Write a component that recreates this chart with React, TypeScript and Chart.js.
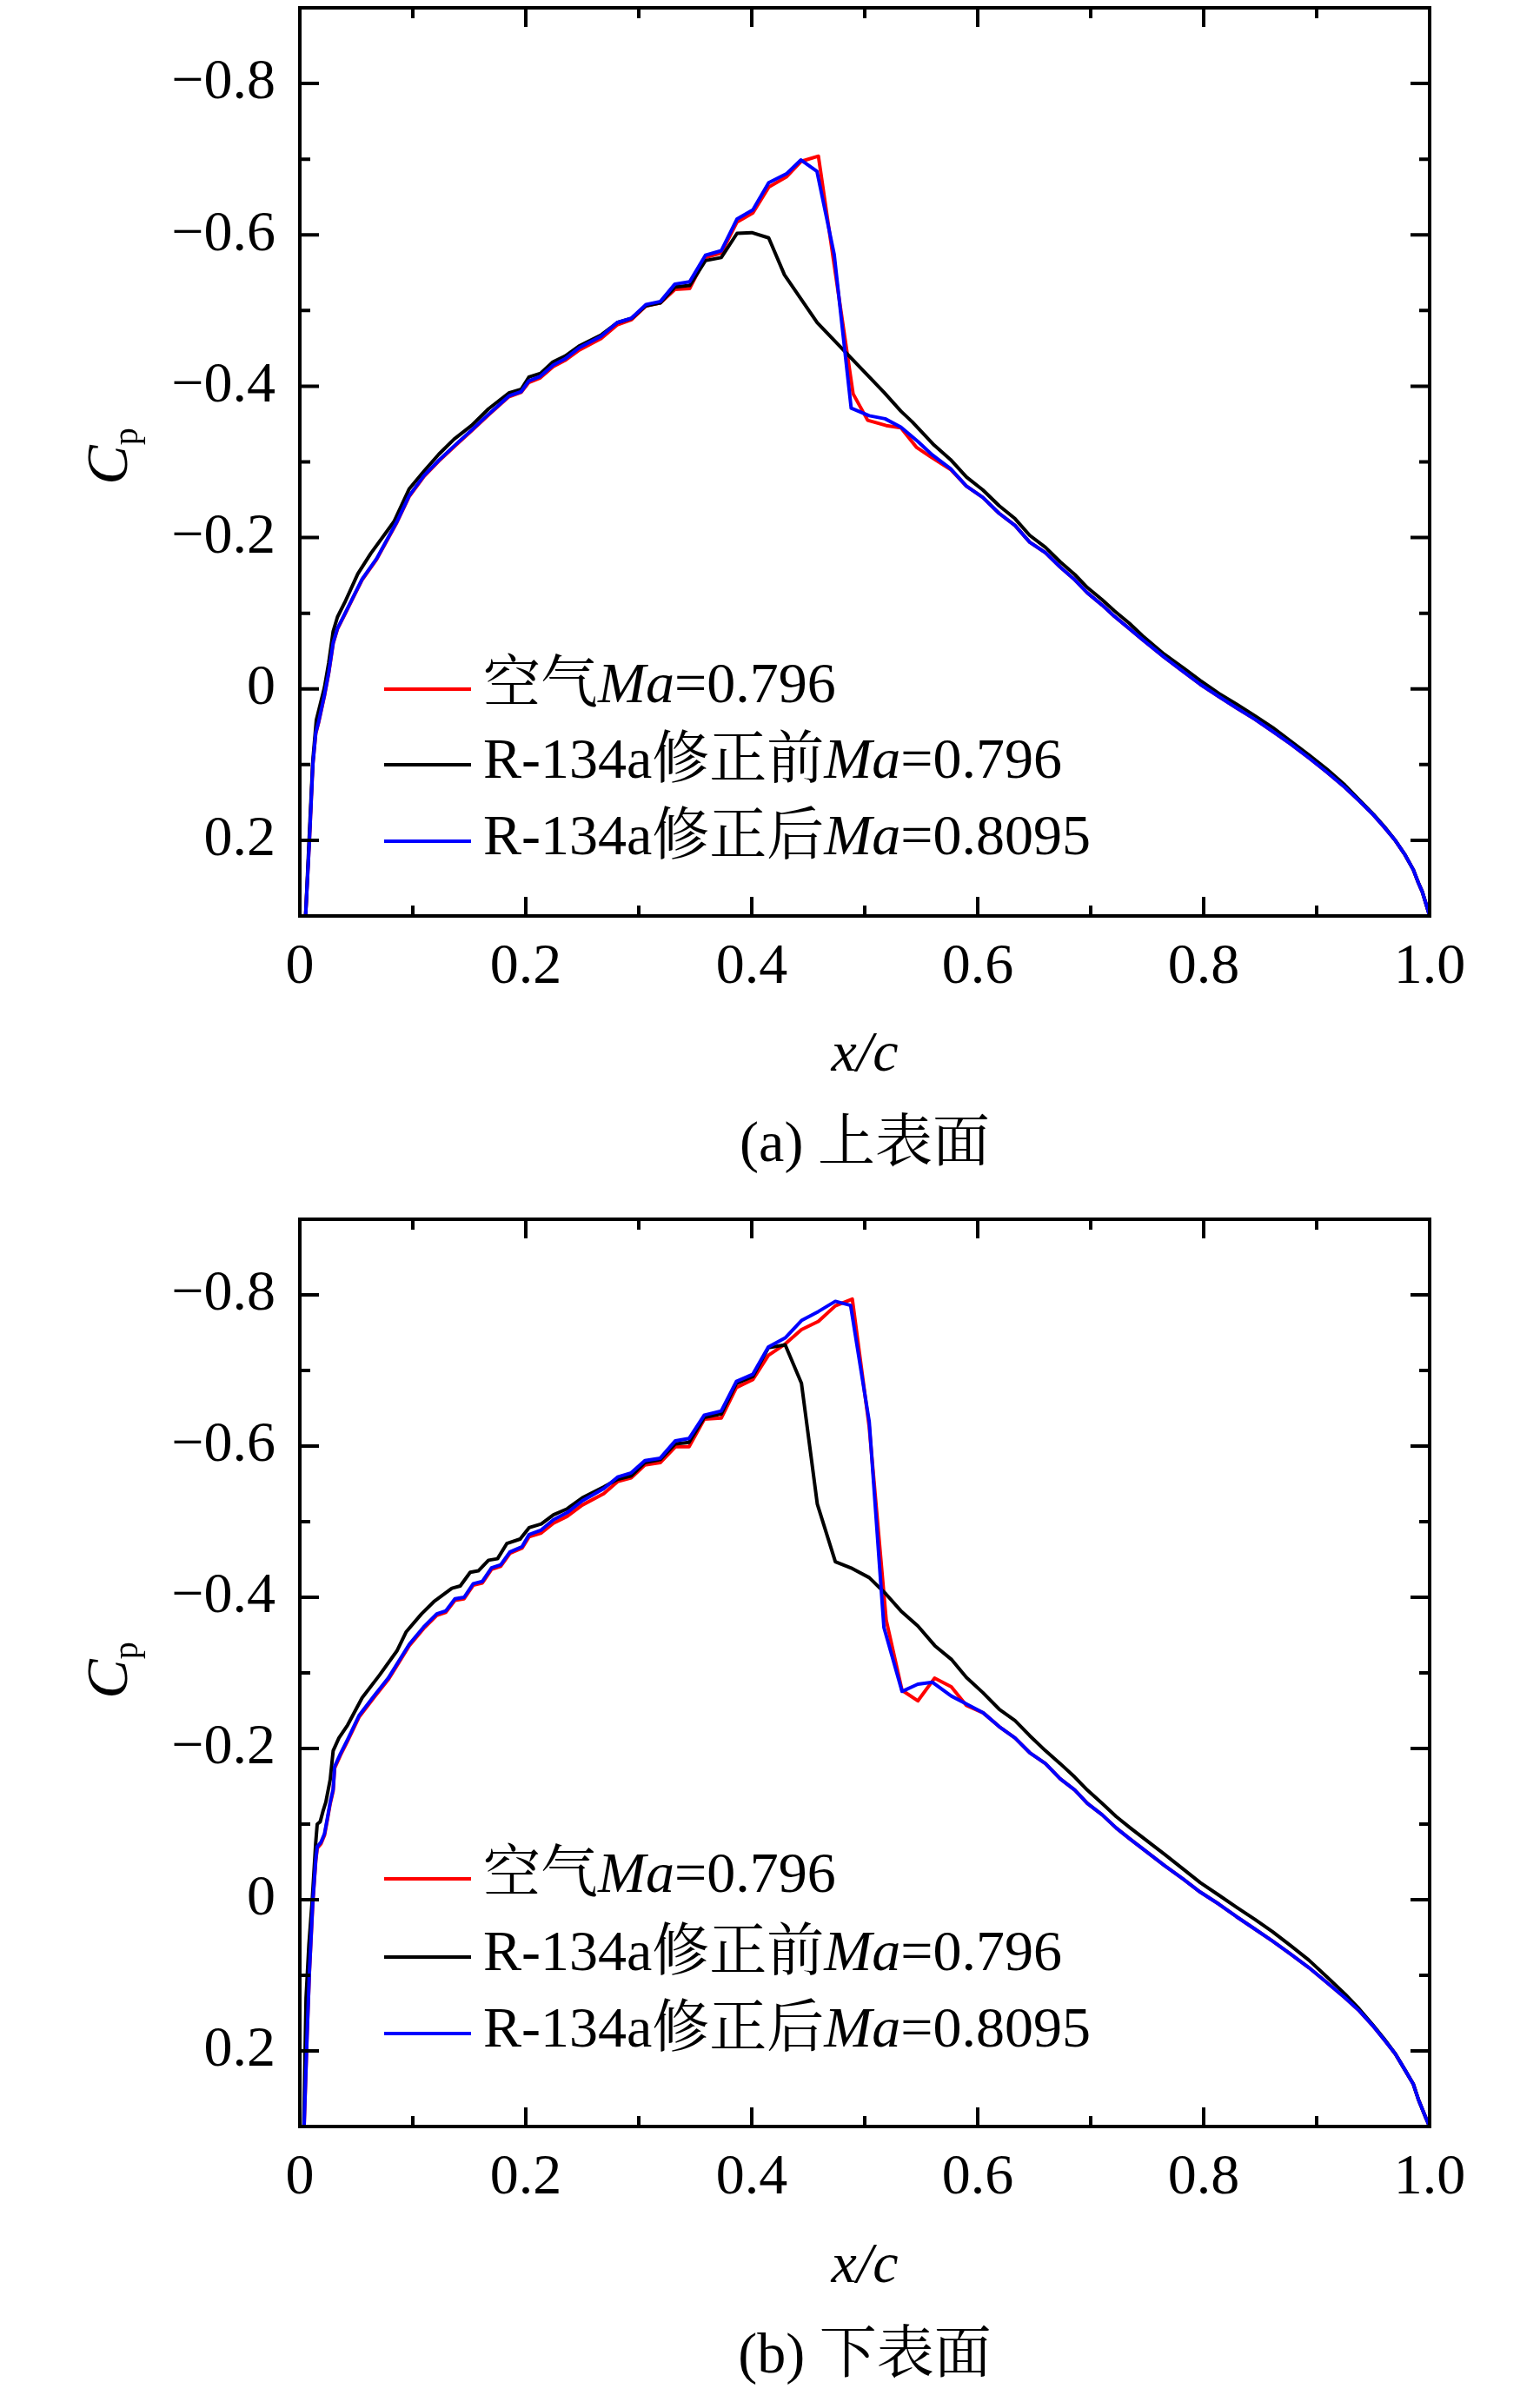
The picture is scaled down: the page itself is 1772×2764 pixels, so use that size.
import React, { useEffect, useRef } from "react";
import { Chart, registerables } from "chart.js";

Chart.register(...registerables);

// ---------- text / ticks ----------
const SERIES_NAMES = ["空气", "R-134a修正前", "R-134a修正后"];
const SERIES_MA = ["=0.796", "=0.796", "=0.8095"];
const SERIES_COLORS = ["#ff0000", "#000000", "#0000ff"];
const X_TICK_VALUES = [0, 0.2, 0.4, 0.6, 0.8, 1.0];
const X_TICK_LABELS = ["0", "0.2", "0.4", "0.6", "0.8", "1.0"];
const X_MINOR = [0.1, 0.3, 0.5, 0.7, 0.9];
const Y_TICK_VALUES = [-0.8, -0.6, -0.4, -0.2, 0, 0.2];
const Y_TICK_LABELS = ["\u22120.8", "\u22120.6", "\u22120.4", "\u22120.2", "0", "0.2"];
const Y_MINOR = [-0.7, -0.5, -0.3, -0.1, 0.1];
const CAPTIONS = ["(a) 上表面", "(b) 下表面"];

// ---------- (a) upper surface ----------
const UPPER_AIR: [number, number][] = [
  [0.0051, 0.3], [0.0085, 0.2], [0.0115, 0.1], [0.0141, 0.059], [0.0167, 0.044], [0.0218, 0.009],
  [0.0256, -0.021], [0.0295, -0.06], [0.0333, -0.079], [0.0397, -0.098], [0.0487, -0.125], [0.0551, -0.144],
  [0.0679, -0.171], [0.0859, -0.22], [0.0967, -0.254], [0.11, -0.281], [0.123, -0.301], [0.1387, -0.323],
  [0.152, -0.341], [0.167, -0.362], [0.185, -0.386], [0.196, -0.392], [0.2027, -0.405], [0.2128, -0.411],
  [0.2244, -0.426], [0.2346, -0.434], [0.2475, -0.448], [0.2667, -0.463], [0.2808, -0.481], [0.2936, -0.488],
  [0.3064, -0.506], [0.3192, -0.51], [0.332, -0.528], [0.345, -0.529], [0.359, -0.57], [0.373, -0.576],
  [0.387, -0.617], [0.401, -0.629], [0.415, -0.663], [0.431, -0.677], [0.4436, -0.697], [0.459, -0.704],
  [0.473, -0.56], [0.4897, -0.39], [0.5026, -0.355], [0.519, -0.348], [0.532, -0.345], [0.546, -0.319],
  [0.558, -0.307], [0.576, -0.29], [0.59, -0.268], [0.6045, -0.253], [0.619, -0.232], [0.633, -0.216],
  [0.646, -0.194], [0.66, -0.18], [0.673, -0.161], [0.686, -0.144], [0.697, -0.127], [0.71, -0.111],
  [0.721, -0.096], [0.734, -0.08], [0.746, -0.065], [0.765, -0.042], [0.7815, -0.0235], [0.797, -0.006],
  [0.8134, 0.01], [0.829, 0.025], [0.8453, 0.04], [0.861, 0.056], [0.877, 0.0727], [0.893, 0.091],
  [0.909, 0.11], [0.925, 0.13], [0.9377, 0.148], [0.9505, 0.167], [0.96, 0.183], [0.97, 0.201],
  [0.9777, 0.218], [0.9856, 0.239], [0.99, 0.256], [0.9935, 0.268], [0.9968, 0.284], [1.0, 0.3],
];
const UPPER_BEFORE: [number, number][] = [
  [0.0051, 0.3], [0.0085, 0.19], [0.0115, 0.095], [0.0146, 0.041], [0.0218, -0.002], [0.0256, -0.035],
  [0.0295, -0.076], [0.0333, -0.095], [0.0397, -0.114], [0.0513, -0.152], [0.0628, -0.179], [0.0833, -0.221],
  [0.0967, -0.264], [0.11, -0.288], [0.123, -0.31], [0.1365, -0.33], [0.152, -0.348], [0.167, -0.37],
  [0.185, -0.391], [0.196, -0.396], [0.2027, -0.412], [0.213, -0.417], [0.224, -0.432], [0.235, -0.44],
  [0.247, -0.453], [0.267, -0.468], [0.281, -0.484], [0.294, -0.49], [0.306, -0.506], [0.319, -0.51],
  [0.332, -0.531], [0.345, -0.533], [0.359, -0.566], [0.373, -0.57], [0.387, -0.602], [0.4, -0.603],
  [0.415, -0.596], [0.429, -0.547], [0.458, -0.484], [0.517, -0.392], [0.532, -0.367], [0.542, -0.353],
  [0.5615, -0.322], [0.576, -0.303], [0.59, -0.28], [0.6045, -0.263], [0.619, -0.242], [0.633, -0.225],
  [0.646, -0.203], [0.66, -0.187], [0.673, -0.168], [0.686, -0.151], [0.697, -0.134], [0.71, -0.118],
  [0.721, -0.103], [0.734, -0.087], [0.746, -0.07], [0.765, -0.046], [0.7815, -0.0284], [0.797, -0.011],
  [0.8134, 0.006], [0.829, 0.02], [0.8453, 0.0355], [0.861, 0.051], [0.877, 0.069], [0.893, 0.087],
  [0.909, 0.106], [0.925, 0.127], [0.9377, 0.1465], [0.9505, 0.166], [0.96, 0.182], [0.97, 0.201],
  [0.9777, 0.218], [0.9856, 0.239], [0.99, 0.256], [0.9935, 0.268], [0.9968, 0.284], [1.0, 0.3],
];
const UPPER_AFTER: [number, number][] = [
  [0.0051, 0.3], [0.0085, 0.2], [0.0115, 0.1], [0.0141, 0.058], [0.0167, 0.043], [0.0218, 0.008],
  [0.0256, -0.022], [0.0295, -0.061], [0.0333, -0.08], [0.0397, -0.099], [0.0487, -0.126], [0.0551, -0.145],
  [0.0679, -0.172], [0.0859, -0.221], [0.0967, -0.255], [0.11, -0.282], [0.123, -0.302], [0.1387, -0.324],
  [0.152, -0.342], [0.167, -0.363], [0.185, -0.387], [0.196, -0.393], [0.2027, -0.407], [0.2128, -0.413],
  [0.2244, -0.428], [0.2346, -0.436], [0.2475, -0.451], [0.2667, -0.466], [0.2808, -0.484], [0.2936, -0.49],
  [0.3064, -0.508], [0.3192, -0.512], [0.332, -0.535], [0.345, -0.538], [0.359, -0.573], [0.373, -0.579],
  [0.387, -0.621], [0.401, -0.633], [0.415, -0.669], [0.431, -0.681], [0.4436, -0.699], [0.4577, -0.684],
  [0.473, -0.574], [0.488, -0.371], [0.504, -0.361], [0.518, -0.357], [0.532, -0.346], [0.547, -0.327],
  [0.56, -0.309], [0.576, -0.291], [0.59, -0.268], [0.6045, -0.253], [0.619, -0.232], [0.633, -0.216],
  [0.646, -0.194], [0.66, -0.18], [0.673, -0.161], [0.686, -0.144], [0.697, -0.127], [0.71, -0.111],
  [0.721, -0.096], [0.734, -0.08], [0.746, -0.065], [0.765, -0.042], [0.7815, -0.0235], [0.797, -0.006],
  [0.8134, 0.01], [0.829, 0.025], [0.8453, 0.04], [0.861, 0.056], [0.877, 0.0727], [0.893, 0.091],
  [0.909, 0.11], [0.925, 0.13], [0.9377, 0.148], [0.9505, 0.167], [0.96, 0.183], [0.97, 0.201],
  [0.9777, 0.218], [0.9856, 0.239], [0.99, 0.256], [0.9935, 0.268], [0.9968, 0.284], [1.0, 0.3],
];

// ---------- (b) lower surface ----------
const LOWER_AIR: [number, number][] = [
  [0.0038, 0.3], [0.0064, 0.18], [0.0085, 0.095], [0.0115, 0.004], [0.0141, -0.051], [0.0154, -0.068],
  [0.0187, -0.074], [0.0218, -0.085], [0.0244, -0.106], [0.0269, -0.127], [0.0295, -0.144], [0.0308, -0.174],
  [0.0359, -0.191], [0.0423, -0.21], [0.0526, -0.242], [0.0654, -0.267], [0.0782, -0.291], [0.0969, -0.336],
  [0.1104, -0.36], [0.1212, -0.376], [0.1292, -0.38], [0.1373, -0.396], [0.1454, -0.398], [0.1535, -0.416],
  [0.1616, -0.419], [0.1697, -0.437], [0.1778, -0.441], [0.1859, -0.458], [0.1967, -0.465], [0.2029, -0.48],
  [0.2137, -0.485], [0.2245, -0.498], [0.2366, -0.507], [0.25, -0.522], [0.269, -0.537], [0.2812, -0.553],
  [0.2933, -0.558], [0.3054, -0.575], [0.319, -0.578], [0.3324, -0.599], [0.3445, -0.599], [0.358, -0.6356],
  [0.373, -0.637], [0.3864, -0.6775], [0.401, -0.688], [0.4147, -0.72], [0.4296, -0.735], [0.444, -0.754],
  [0.459, -0.765], [0.474, -0.7855], [0.489, -0.7944], [0.504, -0.625], [0.519, -0.37], [0.533, -0.277],
  [0.547, -0.263], [0.5618, -0.293], [0.5766, -0.2816], [0.59, -0.257], [0.605, -0.247], [0.619, -0.229],
  [0.633, -0.214], [0.646, -0.1945], [0.66, -0.18], [0.673, -0.16], [0.686, -0.145], [0.697, -0.1275],
  [0.71, -0.1125], [0.7225, -0.095], [0.735, -0.08], [0.7655, -0.045], [0.7815, -0.0276], [0.797, -0.01],
  [0.8134, 0.0058], [0.829, 0.0224], [0.8453, 0.0388], [0.861, 0.0548], [0.877, 0.072], [0.893, 0.0897],
  [0.909, 0.1095], [0.925, 0.1296], [0.9377, 0.147], [0.9505, 0.168], [0.96, 0.1855], [0.9697, 0.204],
  [0.9777, 0.224], [0.9856, 0.244], [0.99, 0.264], [0.9968, 0.289], [1.0, 0.3],
];
const LOWER_BEFORE: [number, number][] = [
  [0.0035, 0.3], [0.0055, 0.13], [0.008, 0.06], [0.011, 0.0], [0.014, -0.074], [0.0154, -0.1],
  [0.018, -0.103], [0.0205, -0.117], [0.023, -0.129], [0.0269, -0.159], [0.0295, -0.197], [0.0346, -0.214],
  [0.0423, -0.231], [0.0551, -0.267], [0.0705, -0.297], [0.0859, -0.329], [0.094, -0.354], [0.1077, -0.378],
  [0.1185, -0.394], [0.1346, -0.412], [0.142, -0.415], [0.1508, -0.433], [0.158, -0.435], [0.167, -0.449],
  [0.175, -0.451], [0.1832, -0.471], [0.195, -0.477], [0.2029, -0.492], [0.2137, -0.497], [0.2245, -0.509],
  [0.2366, -0.517], [0.25, -0.5315], [0.269, -0.546], [0.2812, -0.556], [0.2933, -0.5606], [0.3054, -0.578],
  [0.319, -0.582], [0.3324, -0.603], [0.3445, -0.605], [0.358, -0.638], [0.373, -0.6425], [0.3864, -0.683],
  [0.401, -0.692], [0.4147, -0.73], [0.4296, -0.734], [0.444, -0.683], [0.458, -0.5235], [0.474, -0.447],
  [0.489, -0.438], [0.504, -0.426], [0.5186, -0.4046], [0.532, -0.382], [0.547, -0.362], [0.562, -0.336],
  [0.5766, -0.318], [0.59, -0.294], [0.6045, -0.274], [0.619, -0.252], [0.633, -0.237], [0.646, -0.217],
  [0.66, -0.197], [0.673, -0.18], [0.686, -0.162], [0.697, -0.145], [0.71, -0.1275], [0.7225, -0.11],
  [0.735, -0.095], [0.7655, -0.06], [0.7815, -0.041], [0.797, -0.0225], [0.8134, -0.006], [0.829, 0.0099],
  [0.8453, 0.026], [0.861, 0.0423], [0.877, 0.0607], [0.893, 0.0797], [0.909, 0.102], [0.925, 0.1246],
  [0.9377, 0.1445], [0.9505, 0.167], [0.96, 0.1844], [0.9697, 0.204], [0.9777, 0.224], [0.9856, 0.244],
  [0.99, 0.264], [0.9968, 0.289], [1.0, 0.3],
];
const LOWER_AFTER: [number, number][] = [
  [0.0038, 0.3], [0.0064, 0.18], [0.0085, 0.095], [0.0115, 0.002], [0.0141, -0.053], [0.0154, -0.07],
  [0.0187, -0.076], [0.0218, -0.087], [0.0244, -0.108], [0.0269, -0.129], [0.0295, -0.146], [0.0308, -0.176],
  [0.0359, -0.193], [0.0423, -0.212], [0.0526, -0.244], [0.0654, -0.269], [0.0782, -0.293], [0.0969, -0.338],
  [0.1104, -0.362], [0.1212, -0.378], [0.1292, -0.382], [0.1373, -0.398], [0.1454, -0.4], [0.1535, -0.418],
  [0.1616, -0.421], [0.1697, -0.439], [0.1778, -0.443], [0.1859, -0.46], [0.1967, -0.467], [0.2029, -0.483],
  [0.2137, -0.489], [0.2245, -0.5025], [0.2366, -0.512], [0.25, -0.5276], [0.269, -0.5437], [0.2812, -0.559],
  [0.2933, -0.5646], [0.3054, -0.5807], [0.319, -0.584], [0.3324, -0.607], [0.3445, -0.61], [0.358, -0.641],
  [0.373, -0.6464], [0.3864, -0.6855], [0.401, -0.695], [0.4147, -0.731], [0.4296, -0.743], [0.444, -0.766],
  [0.459, -0.778], [0.474, -0.7915], [0.4875, -0.786], [0.504, -0.632], [0.517, -0.36], [0.533, -0.2755],
  [0.547, -0.285], [0.56, -0.2876], [0.5766, -0.2694], [0.59, -0.259], [0.605, -0.247], [0.619, -0.229],
  [0.633, -0.214], [0.646, -0.1945], [0.66, -0.18], [0.673, -0.16], [0.686, -0.145], [0.697, -0.1275],
  [0.71, -0.1125], [0.7225, -0.095], [0.735, -0.08], [0.7655, -0.045], [0.7815, -0.0276], [0.797, -0.01],
  [0.8134, 0.0058], [0.829, 0.0224], [0.8453, 0.0388], [0.861, 0.0548], [0.877, 0.072], [0.893, 0.0897],
  [0.909, 0.1095], [0.925, 0.1296], [0.9377, 0.147], [0.9505, 0.168], [0.96, 0.1855], [0.9697, 0.204],
  [0.9777, 0.224], [0.9856, 0.244], [0.99, 0.264], [0.9968, 0.289], [1.0, 0.3],
];

const SERIF = '"Liberation Serif", "Times New Roman", "Noto Serif CJK SC", "Noto Sans CJK SC", serif';
const CANVAS_W = 1772;
const CANVAS_H = 1382;

type PanelLayout = {
  top: number;
  bottom: number;
  legendRows: number[];
  cpY: number;
  xTitleY: number;
  captionY: number;
};

const PANEL_LAYOUTS: PanelLayout[] = [
  { top: 9, bottom: 1054, legendRows: [793, 880, 968], cpY: 525, xTitleY: 1232, captionY: 1336 },
  { top: 21, bottom: 1065, legendRows: [780, 870, 958], cpY: 540, xTitleY: 1244, captionY: 1348 },
];

type Part = { t: string; italic?: boolean; size: number; dy?: number };

function drawRich(ctx: CanvasRenderingContext2D, parts: Part[], x: number, y: number) {
  let cx = x;
  for (const p of parts) {
    ctx.font = `${p.italic ? "italic " : ""}${p.size}px ${SERIF}`;
    ctx.fillText(p.t, cx, y + (p.dy || 0));
    cx += ctx.measureText(p.t).width;
  }
  return cx - x;
}

function measureRich(ctx: CanvasRenderingContext2D, parts: Part[]) {
  let w = 0;
  for (const p of parts) {
    ctx.font = `${p.italic ? "italic " : ""}${p.size}px ${SERIF}`;
    w += ctx.measureText(p.t).width;
  }
  return w;
}

function makeDecor(layout: PanelLayout, caption: string) {
  return {
    id: "decor",
    afterDraw(chart: any) {
      const { ctx, chartArea: a, scales } = chart;
      const xs = scales.x;
      const ys = scales.y;
      ctx.save();
      ctx.strokeStyle = "#000";
      ctx.fillStyle = "#000";
      ctx.lineWidth = 4;
      ctx.lineCap = "butt";
      const MAJ = 22;
      const MIN = 12;
      const vTick = (v: number, len: number) => {
        const px = xs.getPixelForValue(v);
        ctx.beginPath();
        ctx.moveTo(px, a.bottom);
        ctx.lineTo(px, a.bottom - len);
        ctx.moveTo(px, a.top);
        ctx.lineTo(px, a.top + len);
        ctx.stroke();
      };
      const hTick = (v: number, len: number) => {
        const py = ys.getPixelForValue(v);
        ctx.beginPath();
        ctx.moveTo(a.left, py);
        ctx.lineTo(a.left + len, py);
        ctx.moveTo(a.right, py);
        ctx.lineTo(a.right - len, py);
        ctx.stroke();
      };
      X_TICK_VALUES.forEach((v) => vTick(v, MAJ));
      X_MINOR.forEach((v) => vTick(v, MIN));
      Y_TICK_VALUES.forEach((v) => hTick(v, MAJ));
      Y_MINOR.forEach((v) => hTick(v, MIN));
      ctx.strokeRect(a.left, a.top, a.right - a.left, a.bottom - a.top);

      // legend
      const FS = 66;
      ctx.textAlign = "left";
      ctx.textBaseline = "middle";
      layout.legendRows.forEach((ry, i) => {
        ctx.strokeStyle = SERIES_COLORS[i];
        ctx.lineWidth = 4;
        ctx.beginPath();
        ctx.moveTo(442, ry);
        ctx.lineTo(542, ry);
        ctx.stroke();
        ctx.fillStyle = "#000";
        drawRich(ctx, [
          { t: SERIES_NAMES[i], size: FS },
          { t: "Ma", italic: true, size: FS },
          { t: SERIES_MA[i], size: FS },
        ], 556, ry - 2);
      });

      // y title C_p
      ctx.save();
      ctx.translate(146, layout.cpY);
      ctx.rotate(-Math.PI / 2);
      ctx.textBaseline = "alphabetic";
      const cParts: Part[] = [
        { t: "C", italic: true, size: 68 },
        { t: "p", size: 40, dy: 12 },
      ];
      const cw = measureRich(ctx, cParts);
      drawRich(ctx, cParts, -cw / 2, 0);
      ctx.restore();

      // x title and caption
      const cx = (a.left + a.right) / 2;
      ctx.textBaseline = "alphabetic";
      ctx.textAlign = "center";
      ctx.font = `italic 66px ${SERIF}`;
      ctx.fillText("x/c", cx, layout.xTitleY);
      ctx.font = `66px ${SERIF}`;
      ctx.fillText(caption, cx, layout.captionY);
      ctx.restore();
    },
  };
}

function Panel({ series, layout, caption }: { series: [number, number][][]; layout: PanelLayout; caption: string }) {
  const ref = useRef<HTMLCanvasElement | null>(null);
  useEffect(() => {
    if (!ref.current) return;
    const drawOrder = [2, 1, 0];
    const chart = new Chart(ref.current, {
      type: "line",
      data: {
        datasets: series.map((s, i) => ({
          label: SERIES_NAMES[i],
          data: s.map(([x, y]) => ({ x, y })),
          borderColor: SERIES_COLORS[i],
          backgroundColor: SERIES_COLORS[i],
          borderWidth: 4,
          borderJoinStyle: "round",
          pointRadius: 0,
          tension: 0,
          fill: false,
          order: drawOrder[i],
        })),
      },
      options: {
        responsive: false,
        animation: false,
        devicePixelRatio: 1,
        events: [],
        layout: { autoPadding: false, padding: { left: 0, right: CANVAS_W - 1645, top: layout.top, bottom: 0 } },
        plugins: { legend: { display: false }, tooltip: { enabled: false }, title: { display: false } },
        scales: {
          x: {
            type: "linear",
            min: 0,
            max: 1,
            grid: { display: false, drawTicks: false },
            border: { display: false },
            afterBuildTicks: (s: any) => {
              s.ticks = X_TICK_VALUES.map((v) => ({ value: v }));
            },
            afterFit: (s: any) => {
              s.height = CANVAS_H - layout.bottom;
              s.paddingLeft = 0;
              s.paddingRight = 0;
            },
            ticks: {
              padding: 20,
              maxRotation: 0,
              autoSkip: false,
              color: "#000",
              font: { family: SERIF, size: 66 },
              callback: (v: any) => {
                const i = X_TICK_VALUES.findIndex((t) => Math.abs(t - v) < 1e-9);
                return i >= 0 ? X_TICK_LABELS[i] : "";
              },
            },
          },
          y: {
            type: "linear",
            min: -0.9,
            max: 0.3,
            reverse: true,
            grid: { display: false, drawTicks: false },
            border: { display: false },
            afterBuildTicks: (s: any) => {
              s.ticks = Y_TICK_VALUES.map((v) => ({ value: v }));
            },
            afterFit: (s: any) => {
              s.width = 345;
              s.paddingTop = 0;
              s.paddingBottom = 0;
            },
            ticks: {
              padding: 28,
              autoSkip: false,
              color: "#000",
              font: { family: SERIF, size: 66 },
              callback: (v: any) => {
                const i = Y_TICK_VALUES.findIndex((t) => Math.abs(t - v) < 1e-9);
                return i >= 0 ? Y_TICK_LABELS[i] : "";
              },
            },
          },
        },
      },
      plugins: [makeDecor(layout, caption)],
    } as any);
    return () => chart.destroy();
  }, []);
  return (
    <canvas
      ref={ref}
      width={CANVAS_W}
      height={CANVAS_H}
      style={{ display: "block", width: CANVAS_W, height: CANVAS_H }}
    />
  );
}

export default function App() {
  return (
    <div style={{ position: "absolute", left: 0, top: 0, width: CANVAS_W, background: "#fff" }}>
      <Panel series={[UPPER_AIR, UPPER_BEFORE, UPPER_AFTER]} layout={PANEL_LAYOUTS[0]} caption={CAPTIONS[0]} />
      <Panel series={[LOWER_AIR, LOWER_BEFORE, LOWER_AFTER]} layout={PANEL_LAYOUTS[1]} caption={CAPTIONS[1]} />
    </div>
  );
}
